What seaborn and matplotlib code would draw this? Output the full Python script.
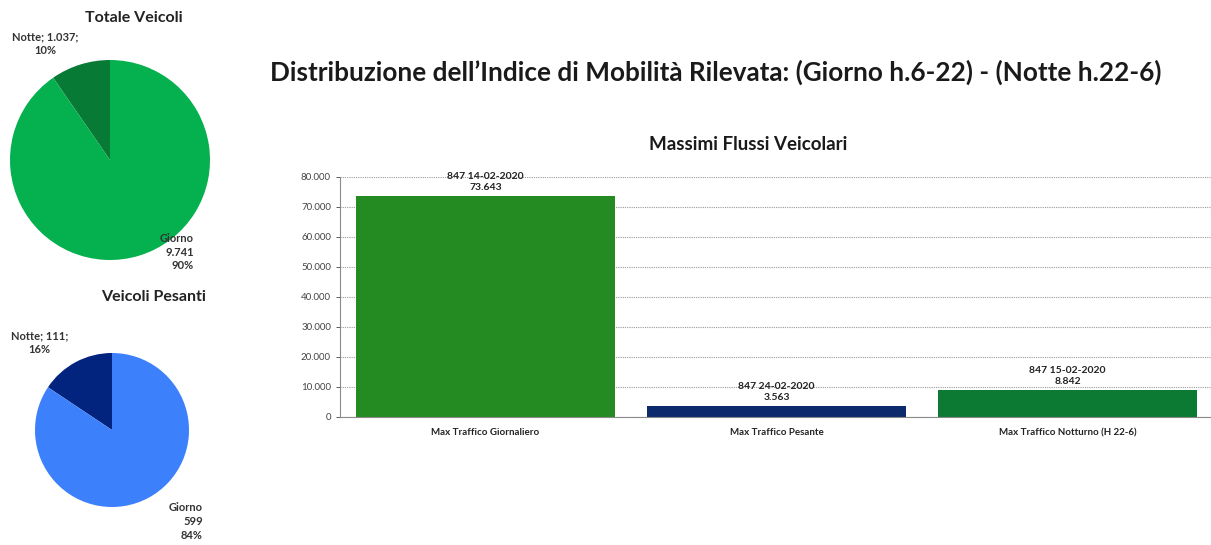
import pandas as pd
import seaborn as sns
import matplotlib.pyplot as plt
from matplotlib.ticker import FuncFormatter

# pie data
pie_labels = ['Notte', 'Giorno']
totale_veicoli = [1037, 9741]
veicoli_pesanti = [111, 599]

# bar data
categorie = ['Max Traffico Giornaliero', 'Max Traffico Pesante', 'Max Traffico Notturno (H 22-6)']
massimi = [73643, 3563, 8842]
date_max = ['847 14-02-2020', '847 24-02-2020', '847 15-02-2020']

sns.set_style('white')
plt.rcParams['font.family'] = ['Lato', 'DejaVu Sans']

def fmt_it(v):
    return f'{int(round(v)):,}'.replace(',', '.')

W, H = 1211, 545
fig = plt.figure(figsize=(W / 100, H / 100), dpi=100)
fig.patch.set_facecolor('white')

def px_axes(left, top, right, bottom):
    return fig.add_axes([left / W, (H - bottom) / H, (right - left) / W, (bottom - top) / H])

# --- Totale Veicoli pie
ax1 = px_axes(10, 60, 210, 260)
ax1.pie(totale_veicoli, colors=['#077a35', '#05b04f'], startangle=90, counterclock=True,
        wedgeprops={'linewidth': 0})
ax1.set_xlim(-1, 1)
ax1.set_ylim(-1, 1)
ax1.set_aspect('equal')
pct1 = [round(100 * v / sum(totale_veicoli)) for v in totale_veicoli]
ax1.text(-0.65, 1.16, f'{pie_labels[0]}; {fmt_it(totale_veicoli[0])};\n{pct1[0]}%',
         ha='center', va='center', fontsize=8, fontweight='bold', color='#333333', linespacing=1.3)
ax1.text(0.84, -0.92, f'{pie_labels[1]}\n{fmt_it(totale_veicoli[1])}\n{pct1[1]}%',
         ha='right', va='center', fontsize=8, fontweight='bold', color='#333333', linespacing=1.3)
fig.text(134 / W, 1 - 18 / H, 'Totale Veicoli', ha='center', va='center',
         fontsize=11.5, fontweight='bold', color='#222222')

# --- Veicoli Pesanti pie
ax2 = px_axes(35, 353, 189, 507)
ax2.pie(veicoli_pesanti, colors=['#03247e', '#3d80fb'], startangle=90, counterclock=True,
        wedgeprops={'linewidth': 0})
ax2.set_xlim(-1, 1)
ax2.set_ylim(-1, 1)
ax2.set_aspect('equal')
pct2 = [round(100 * v / sum(veicoli_pesanti)) for v in veicoli_pesanti]
ax2.text(-0.94, 1.13, f'{pie_labels[0]}; {veicoli_pesanti[0]};\n{pct2[0]}%',
         ha='center', va='center', fontsize=8, fontweight='bold', color='#333333', linespacing=1.3)
ax2.text(1.18, -1.19, f'{pie_labels[1]}\n{veicoli_pesanti[1]}\n{pct2[1]}%',
         ha='right', va='center', fontsize=8, fontweight='bold', color='#333333', linespacing=1.3)
fig.text(154 / W, 1 - 297 / H, 'Veicoli Pesanti', ha='center', va='center',
         fontsize=11.5, fontweight='bold', color='#222222')

# --- main title
fig.text(716 / W, 1 - 72 / H,
         'Distribuzione dell\u2019Indice di Mobilità Rilevata: (Giorno h.6-22) - (Notte h.22-6)',
         ha='center', va='center', fontsize=18.8, fontweight='bold', color='#1a1a1a')

# --- bar chart (right edge runs off the page like in the source)
ax3 = px_axes(340, 177, 1213, 417)
df = pd.DataFrame({'categoria': categorie, 'valore': massimi})
sns.barplot(data=df, x='categoria', y='valore', hue='categoria',
            palette=['#238b22', '#0c2a6c', '#0c7a33'], width=0.89, legend=False, ax=ax3,
            saturation=1, linewidth=0)
ax3.set_ylim(0, 80000)
ax3.set_yticks(range(0, 80001, 10000))
ax3.yaxis.set_major_formatter(FuncFormatter(lambda v, p: fmt_it(v)))
ax3.set_xlabel('')
ax3.set_ylabel('')
ax3.grid(axis='y', linestyle=(0, (1, 1)), color='#9a9a9a', linewidth=0.8)
ax3.set_axisbelow(True)
for s in ['top', 'right']:
    ax3.spines[s].set_visible(False)
for s in ['left', 'bottom']:
    ax3.spines[s].set_color('#8a8a8a')
    ax3.spines[s].set_linewidth(0.8)
ax3.tick_params(axis='y', labelsize=7, colors='#444444', length=3, width=0.6, left=True)
ax3.tick_params(axis='x', labelsize=7, colors='#222222', length=0, pad=8)
for lab in ax3.get_xticklabels():
    lab.set_fontweight('bold')
for i, (v, d) in enumerate(zip(massimi, date_max)):
    ax3.annotate(f'{d}\n{fmt_it(v)}', (i, v), xytext=(0, 3), textcoords='offset points',
                 ha='center', va='bottom', fontsize=7.5, fontweight='bold', color='#222222',
                 linespacing=1.3)
fig.text(748 / W, 1 - 145 / H, 'Massimi Flussi Veicolari', ha='center', va='center',
         fontsize=13.5, fontweight='bold', color='#1a1a1a')

fig.savefig('out.png', dpi=100, facecolor='white')
